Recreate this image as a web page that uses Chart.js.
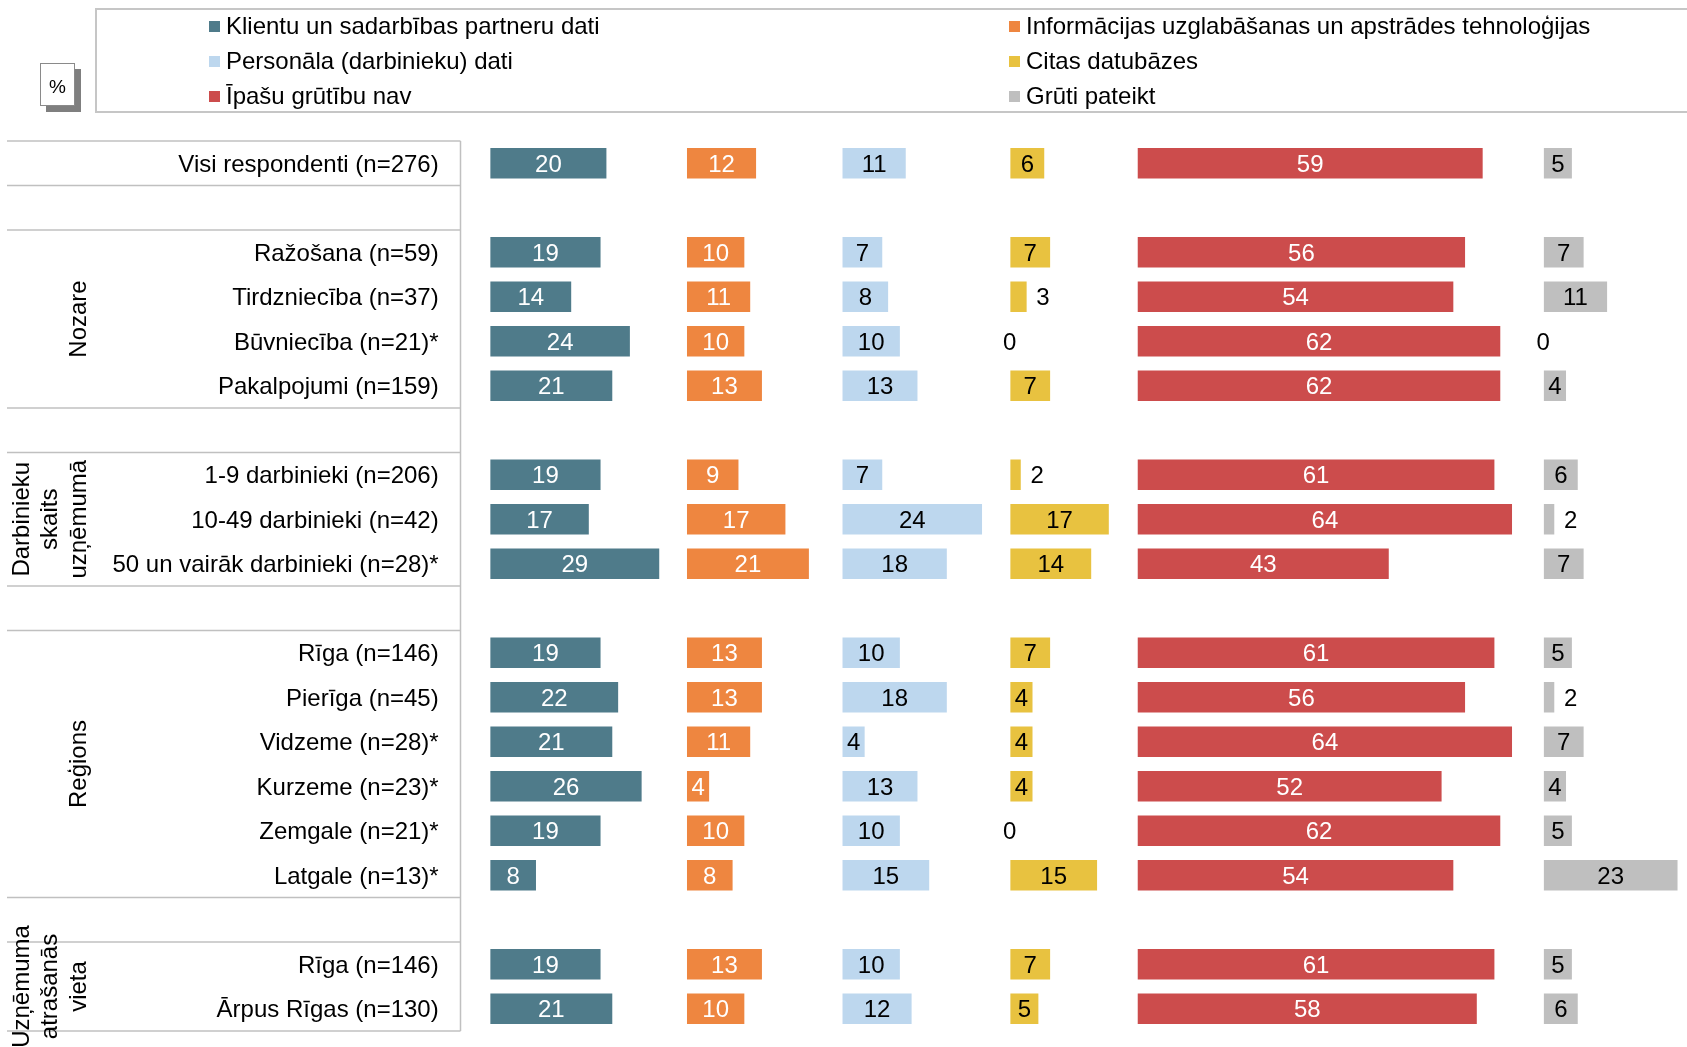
<!DOCTYPE html>
<html>
<head>
<meta charset="utf-8">
<script src="https://cdn.jsdelivr.net/npm/chart.js@4.4.0/dist/chart.umd.min.js"></script>
<style>
  body { margin: 0; background: #fff; font-family: "Liberation Sans", Arial, sans-serif; }
  #wrap { position: relative; width: 1687px; height: 1047px; overflow: hidden; }
  #chart { position: absolute; left: 0; top: 0; }
  #legend { position: absolute; left: 95px; top: 8px; width: 1640px; height: 105px;
            border: 2px solid #c6c6c6; box-sizing: border-box; }
  .item { position: absolute; display: flex; align-items: center; height: 28px;
          font-size: 24px; white-space: nowrap; color: #000; }
  .item i { display: inline-block; width: 11px; height: 11px; margin-right: 6px; }
  #pct { position: absolute; left: 40px; top: 63px; width: 35px; height: 43px; box-sizing: border-box;
         background: #fff; border: 1px solid #8a8a8a; box-shadow: 6px 6px 0 #7f7f7f;
         font-size: 19px; text-align: center; line-height: 46px; }
</style>
</head>
<body>
<div id="wrap">
  <canvas id="chart" width="1687" height="1047"></canvas>
  <div id="legend"></div>
  <div id="pct">%</div>
</div>
<script>
// rows, '' = empty separator row
const categories = [
  'Visi respondenti (n=276)', '',
  'Ražošana (n=59)', 'Tirdzniecība (n=37)', 'Būvniecība (n=21)*', 'Pakalpojumi (n=159)', '',
  '1-9 darbinieki (n=206)', '10-49 darbinieki (n=42)', '50 un vairāk darbinieki (n=28)*', '',
  'Rīga (n=146)', 'Pierīga (n=45)', 'Vidzeme (n=28)*', 'Kurzeme (n=23)*', 'Zemgale (n=21)*', 'Latgale (n=13)*', '',
  'Rīga (n=146)', 'Ārpus Rīgas (n=130)'
];

const groups = [
  { label: ['Nozare'], from: 2, to: 5 },
  { label: ['Darbinieku', 'skaits', 'uzņēmumā'], from: 7, to: 9 },
  { label: ['Reģions'], from: 11, to: 16 },
  { label: ['Uzņēmuma', 'atrašanās', 'vieta'], from: 18, to: 19 }
];

const seriesNames = [
  'Klientu un sadarbības partneru dati',
  'Informācijas uzglabāšanas un apstrādes tehnoloģijas',
  'Personāla (darbinieku) dati',
  'Citas datubāzes',
  'Īpašu grūtību nav',
  'Grūti pateikt'
];

const klienti    = [20, null, 19, 14, 24, 21, null, 19, 17, 29, null, 19, 22, 21, 26, 19,  8, null, 19, 21];
const tehnologij = [12, null, 10, 11, 10, 13, null,  9, 17, 21, null, 13, 13, 11,  4, 10,  8, null, 13, 10];
const personals  = [11, null,  7,  8, 10, 13, null,  7, 24, 18, null, 10, 18,  4, 13, 10, 15, null, 10, 12];
const citas      = [ 6, null,  7,  3,  0,  7, null,  2, 17, 14, null,  7,  4,  4,  4,  0, 15, null,  7,  5];
const nav        = [59, null, 56, 54, 62, 62, null, 61, 64, 43, null, 61, 56, 64, 52, 62, 54, null, 61, 58];
const gruti      = [ 5, null,  7, 11,  0,  4, null,  6,  2,  7, null,  5,  2,  7,  4,  5, 23, null,  5,  6];

const seriesValues = [klienti, tehnologij, personals, citas, nav, gruti];

// where each column of bars starts on the shared x axis
const columnStart = [0, 33.5, 60, 88.6, 110.3, 179.5];
const colors = ['#4f7b8a', '#ee8640', '#bdd7ee', '#e8c240', '#cc4c4c', '#bfbfbf'];
const labelColors = ['#fff', '#fff', '#000', '#000', '#fff', '#000'];

const FONT = '"Liberation Sans", Arial, sans-serif';

// legend
const legendEl = document.getElementById('legend');
seriesNames.forEach((name, i) => {
  const item = document.createElement('div');
  item.className = 'item';
  item.style.left = ([209, 1009][i % 2] - 97) + 'px';
  item.style.top = (26 + 35 * Math.floor(i / 2) - 14 - 10) + 'px';
  item.innerHTML = '<i style="background:' + colors[i] + '"></i>' + name;
  legendEl.appendChild(item);
});

// value labels inside / next to bars
const valueLabels = {
  id: 'valueLabels',
  afterDatasetsDraw(chart) {
    const ctx = chart.ctx;
    ctx.save();
    ctx.font = '24px ' + FONT;
    ctx.textBaseline = 'middle';
    chart.data.datasets.forEach((ds, di) => {
      chart.getDatasetMeta(di).data.forEach((bar, i) => {
        const v = seriesValues[di][i];
        if (v === null) return;
        const ty = bar.y + 2;
        if (v === 0) {
          ctx.fillStyle = '#000';
          ctx.textAlign = 'center';
          ctx.fillText('0', bar.base, ty);
        } else if (v <= 3) {
          ctx.fillStyle = '#000';
          ctx.textAlign = 'left';
          ctx.fillText(String(v), bar.x + 9, ty);
        } else {
          ctx.fillStyle = labelColors[di];
          ctx.textAlign = 'center';
          ctx.fillText(String(v), (bar.x + bar.base) / 2, ty);
        }
      });
    });
    ctx.restore();
  }
};

// left table lines and rotated group titles
const tableFrame = {
  id: 'tableFrame',
  afterDraw(chart) {
    const y = chart.scales.y;
    const ctx = chart.ctx;
    const half = (y.getPixelForValue(1) - y.getPixelForValue(0)) / 2;
    const top = y.getPixelForValue(0) - half;
    const bottom = y.getPixelForValue(categories.length - 1) + half;
    const edges = [top, bottom];
    categories.forEach((c, i) => {
      if (c === '') edges.push(y.getPixelForValue(i) - half, y.getPixelForValue(i) + half);
    });
    ctx.save();
    ctx.strokeStyle = '#c0c0c0';
    ctx.lineWidth = 1.5;
    edges.forEach(e => {
      ctx.beginPath();
      ctx.moveTo(7, e);
      ctx.lineTo(460.5, e);
      ctx.stroke();
    });
    ctx.beginPath();
    ctx.moveTo(460.5, top);
    ctx.lineTo(460.5, bottom);
    ctx.stroke();

    ctx.fillStyle = '#000';
    ctx.font = '24px ' + FONT;
    ctx.textAlign = 'center';
    ctx.textBaseline = 'middle';
    groups.forEach(g => {
      const yc = (y.getPixelForValue(g.from) + y.getPixelForValue(g.to)) / 2;
      const n = g.label.length;
      g.label.forEach((line, k) => {
        const x = 79 - (n - 1 - k) * 28.5;
        ctx.save();
        ctx.translate(x, yc);
        ctx.rotate(-Math.PI / 2);
        ctx.fillText(line, 0, 0);
        ctx.restore();
      });
    });
    ctx.restore();
  }
};

new Chart(document.getElementById('chart'), {
  type: 'bar',
  data: {
    labels: categories,
    datasets: seriesValues.map((vals, i) => ({
      label: seriesNames[i],
      data: vals.map(v => v === null ? null : [columnStart[i], columnStart[i] + v]),
      backgroundColor: colors[i],
      borderColor: 'rgba(255,255,255,0.35)',
      borderWidth: 1,
      borderSkipped: false,
      barThickness: 32,
      grouped: false
    }))
  },
  options: {
    indexAxis: 'y',
    responsive: false,
    animation: false,
    layout: { padding: { top: 141, bottom: 16, left: 0, right: 0 } },
    plugins: { legend: { display: false }, tooltip: { enabled: false } },
    scales: {
      x: { type: 'linear', min: 0, max: 204, display: false },
      y: {
        grid: { display: false },
        border: { display: false },
        ticks: { autoSkip: false, padding: 43, labelOffset: 2, color: '#000', font: { size: 24, family: FONT } },
        afterFit(scale) {
          scale.width = 489.7;
          scale.paddingTop = 0;
          scale.paddingBottom = 0;
        }
      }
    }
  },
  plugins: [valueLabels, tableFrame]
});
</script>
</body>
</html>
